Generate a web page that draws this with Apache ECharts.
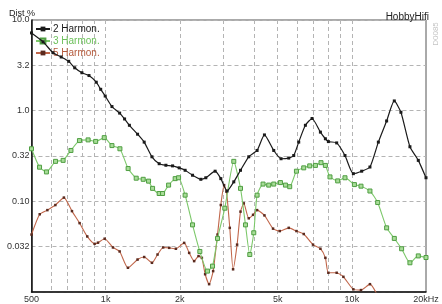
<!DOCTYPE html>
<html>
<head>
<meta charset="utf-8">
<script src="https://cdn.jsdelivr.net/npm/echarts@6/dist/echarts.min.js"></script>
<style>
  html, body { margin: 0; padding: 0; background: #fff; }
  #chart { width: 442px; height: 304px; }
</style>
</head>
<body>
<div id="chart"></div>
<script>
// distortion (%) per harmonic
const h2Freq = [500, 557, 611, 660, 708, 749, 801, 856, 916, 955, 996, 1061, 1140, 1194, 1249, 1348, 1434, 1542, 1650, 1757, 1870, 1989, 2103, 2254, 2436, 2552, 2784, 2936, 3114, 3315, 3530, 3813, 4122, 4415, 4816, 5157, 5542, 5806, 6084, 6475, 6892, 7451, 7806, 8028, 8675, 9376, 10140, 10960, 11840, 12810, 13840, 14870, 15820, 17210, 18610, 20000];
const h2Dist = [7.2, 5.75, 4.36, 3.91, 3.5, 2.97, 2.62, 2.44, 2.06, 1.72, 1.45, 1.11, 0.94, 0.81, 0.69, 0.55, 0.45, 0.31, 0.26, 0.25, 0.246, 0.234, 0.22, 0.194, 0.175, 0.182, 0.215, 0.178, 0.13, 0.164, 0.22, 0.31, 0.364, 0.54, 0.364, 0.295, 0.30, 0.32, 0.45, 0.69, 0.82, 0.58, 0.49, 0.456, 0.441, 0.32, 0.202, 0.215, 0.239, 0.45, 0.77, 1.28, 0.96, 0.40, 0.283, 0.182];

const h3Freq = [500, 539, 575, 626, 672, 723, 783, 849, 911, 987, 1061, 1143, 1234, 1331, 1421, 1494, 1551, 1650, 1703, 1802, 1916, 1978, 2103, 2254, 2413, 2592, 2717, 2847, 3048, 3315, 3530, 3698, 3849, 3996, 4122, 4358, 4596, 4816, 5127, 5373, 5592, 5955, 6375, 6743, 7112, 7492, 7806, 8149, 8757, 9376, 10240, 10890, 11840, 12730, 13840, 14870, 15920, 17210, 18610, 20000];
const h3Dist = [0.38, 0.238, 0.211, 0.276, 0.283, 0.364, 0.468, 0.476, 0.458, 0.504, 0.412, 0.38, 0.23, 0.18, 0.175, 0.167, 0.139, 0.122, 0.122, 0.151, 0.178, 0.182, 0.117, 0.055, 0.028, 0.017, 0.0193, 0.039, 0.084, 0.276, 0.139, 0.055, 0.0259, 0.045, 0.117, 0.155, 0.151, 0.155, 0.161, 0.151, 0.145, 0.215, 0.234, 0.246, 0.249, 0.267, 0.249, 0.186, 0.168, 0.182, 0.153, 0.147, 0.13, 0.097, 0.051, 0.039, 0.030, 0.021, 0.025, 0.024];

const h5Freq = [500, 540, 580, 625, 677, 730, 784, 842, 902, 931, 991, 1071, 1140, 1232, 1348, 1434, 1542, 1625, 1713, 1812, 1929, 2084, 2184, 2288, 2384, 2459, 2536, 2632, 2733, 2847, 2936, 3028, 3096, 3193, 3293, 3419, 3530, 3640, 3813, 3970, 4122, 4415, 4785, 5094, 5542, 5955, 6375, 6954, 7451, 7806, 8028, 8675, 9238, 10140, 10890, 11840, 12600];
const h5Dist = [0.043, 0.072, 0.080, 0.091, 0.110, 0.078, 0.0575, 0.041, 0.034, 0.035, 0.0387, 0.031, 0.028, 0.0185, 0.0228, 0.0243, 0.021, 0.0259, 0.031, 0.0307, 0.030, 0.0348, 0.027, 0.0219, 0.0249, 0.0238, 0.0157, 0.0122, 0.017, 0.043, 0.091, 0.151, 0.128, 0.051, 0.0178, 0.0333, 0.077, 0.095, 0.065, 0.071, 0.080, 0.070, 0.050, 0.047, 0.051, 0.047, 0.0436, 0.0333, 0.030, 0.0238, 0.0163, 0.0163, 0.0147, 0.0107, 0.0105, 0.0122, 0.0096];

const seriesNames = ["2 Harmon.", "3 Harmon.", "5 Harmon."];

// axis ticks
const gridFreqs = [600, 700, 800, 900, 1000, 2000, 3000, 4000, 5000, 6000, 7000, 8000, 9000, 10000];
const xLabelFreqs = [500, 1000, 2000, 5000, 10000, 20000];
const xLabelTexts = ["500", "1k", "2k", "5k", "10k", "20kHz"];
const yTickLabels = ["0.010", "0.032", "0.10", "0.32", "1.0", "3.2", "10.0"];

// both axes drawn on log10 of the values
function toPairs(freqs, vals) {
	return freqs.map((f, i) => [Math.log10(f), Math.log10(vals[i])]);
}

const chart = echarts.init(document.getElementById("chart"));
const font = "Liberation Sans";

chart.setOption({
	animation: false,
	textStyle: { fontFamily: font },
	title: [
		{
			text: "Dist %",
			left: 9,
			top: 9,
			padding: 0,
			textStyle: { fontSize: 9, fontWeight: "normal", color: "#222", fontFamily: font },
		},
		{
			text: "HobbyHifi",
			right: 13,
			top: 12,
			padding: 0,
			textStyle: { fontSize: 10, fontWeight: "normal", color: "#222", fontFamily: font },
		},
	],
	graphic: [
		{
			type: "text",
			x: 436,
			y: 34,
			rotation: Math.PI / 2,
			style: {
				text: "D0085",
				fill: "#c4c4c4",
				fontSize: 8,
				fontFamily: font,
				align: "center",
				verticalAlign: "middle",
			},
		},
	],
	legend: {
		left: 35,
		top: 24,
		orient: "vertical",
		itemGap: 2,
		itemWidth: 14,
		itemHeight: 6,
		padding: 0,
		textStyle: { fontSize: 10, fontFamily: font, padding: [0, 0, 0, -2] },
		data: [
			{ name: seriesNames[0], textStyle: { color: "#1a1a1a" } },
			{ name: seriesNames[1], textStyle: { color: "#6cc05a" } },
			{ name: seriesNames[2], textStyle: { color: "#b45a3c" } },
		],
	},
	grid: {
		left: 31.5,
		right: 16,
		top: 20,
		bottom: 9,
		show: true,
		borderColor: "#555",
		borderWidth: 1,
	},
	xAxis: {
		type: "value",
		min: Math.log10(500),
		max: Math.log10(20000),
		axisLine: { onZero: false, lineStyle: { color: "#111", width: 1.5 } },
		axisTick: { show: false, customValues: gridFreqs.map(Math.log10) },
		splitLine: {
			show: true,
			lineStyle: { color: "#b4b4b4", type: [4, 3], width: 1 },
		},
		axisLabel: {
			customValues: xLabelFreqs.map(Math.log10),
			margin: 3,
			fontSize: 9,
			color: "#333",
			formatter: function (v) {
				const i = xLabelFreqs.findIndex((f) => Math.abs(Math.log10(f) - v) < 1e-6);
				return i >= 0 ? xLabelTexts[i] : "";
			},
		},
	},
	yAxis: {
		type: "value",
		min: -2,
		max: 1,
		interval: 0.5,
		axisLine: { show: true, onZero: false, lineStyle: { color: "#111", width: 1.5 } },
		axisTick: { show: false },
		splitLine: {
			show: true,
			lineStyle: { color: "#b4b4b4", type: [4, 3], width: 1 },
		},
		axisLabel: {
			margin: 2,
			fontSize: 9,
			color: "#333",
			padding: [5, 0, 0, 0],
			showMinLabel: false,
			formatter: function (v) {
				return yTickLabels[Math.round((v + 2) / 0.5)];
			},
		},
	},
	series: [
		{
			name: seriesNames[0],
			type: "line",
			data: toPairs(h2Freq, h2Dist),
			smooth: 0.2,
			symbol: "rect",
			symbolSize: 3,
			lineStyle: { color: "#1a1a1a", width: 1.2 },
			itemStyle: { color: "#1a1a1a" },
			z: 4,
		},
		{
			name: seriesNames[1],
			type: "line",
			data: toPairs(h3Freq, h3Dist),
			smooth: 0.2,
			symbol: "rect",
			symbolSize: 4,
			lineStyle: { color: "#7cc86a", width: 1.1 },
			itemStyle: { color: "#a8dc98", borderColor: "#4f9e42", borderWidth: 1 },
			z: 3,
		},
		{
			name: seriesNames[2],
			type: "line",
			data: toPairs(h5Freq, h5Dist),
			smooth: 0.2,
			symbol: "rect",
			symbolSize: 2.5,
			lineStyle: { color: "#c0664a", width: 1.1 },
			itemStyle: { color: "#5a2a1e" },
			z: 2,
		},
	],
});
</script>
</body>
</html>
